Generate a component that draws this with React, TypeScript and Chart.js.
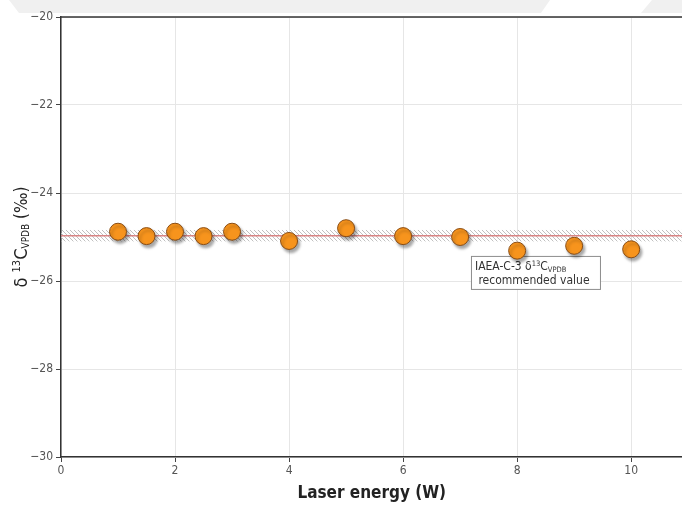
import React, { useEffect, useRef } from "react";
import { Chart, registerables } from "chart.js";

Chart.register(...registerables);

const laserEnergy = [1, 1.5, 2, 2.5, 3, 4, 5, 6, 7, 8, 9, 10];
const delta13C = [-24.88, -24.98, -24.88, -24.98, -24.88, -25.09, -24.8, -24.98, -25.0, -25.31, -25.2, -25.28];
const recommendedValue = -24.97;
const recommendedUncertainty = 0.13;
const xTickValues = [0, 2, 4, 6, 8, 10];
const yTickValues = [-30, -28, -26, -24, -22, -20];

const FONT = '"DejaVu Sans Condensed", "Liberation Sans Narrow", "Open Sans", sans-serif';

type Part = { t: string; size: number; dy: number };

function drawParts(ctx: CanvasRenderingContext2D, parts: Part[], x: number, y: number, align: "left" | "center", color: string, weight = "normal") {
  let total = 0;
  const widths = parts.map((p) => {
    ctx.font = `${weight} ${p.size}px ${FONT}`;
    const w = ctx.measureText(p.t).width;
    total += w;
    return w;
  });
  let cx = align === "center" ? x - total / 2 : x;
  ctx.fillStyle = color;
  ctx.textBaseline = "alphabetic";
  ctx.textAlign = "left";
  parts.forEach((p, i) => {
    ctx.font = `${weight} ${p.size}px ${FONT}`;
    ctx.fillText(p.t, cx, y + p.dy);
    cx += widths[i];
  });
}

const decorPlugin = {
  id: "decor",
  beforeDraw(chart: any) {
    const ctx = chart.ctx as CanvasRenderingContext2D;
    ctx.save();
    ctx.fillStyle = "#f0f0f0";
    ctx.beginPath();
    ctx.moveTo(9, 0);
    ctx.lineTo(550, 0);
    ctx.lineTo(541, 13);
    ctx.lineTo(19, 13);
    ctx.closePath();
    ctx.fill();
    ctx.beginPath();
    ctx.moveTo(652, 0);
    ctx.lineTo(700, 0);
    ctx.lineTo(700, 13);
    ctx.lineTo(641, 13);
    ctx.closePath();
    ctx.fill();
    ctx.restore();
  },
  beforeDatasetsDraw(chart: any) {
    const ctx = chart.ctx as CanvasRenderingContext2D;
    const { left, right, top, bottom } = chart.chartArea;
    const ys = chart.scales.y;
    const xs = chart.scales.x;
    ctx.save();
    ctx.beginPath();
    ctx.rect(left, top, right - left, bottom - top);
    ctx.clip();
    const pc = document.createElement("canvas");
    pc.width = 4;
    pc.height = 4;
    const p = pc.getContext("2d")!;
    p.strokeStyle = "#c0c0c0";
    p.lineWidth = 1;
    p.beginPath();
    p.moveTo(0, 0);
    p.lineTo(4, 4);
    p.moveTo(-1, 3);
    p.lineTo(1, 5);
    p.moveTo(3, -1);
    p.lineTo(5, 1);
    p.stroke();
    const pat = ctx.createPattern(pc, "repeat")!;
    const y1 = ys.getPixelForValue(recommendedValue + recommendedUncertainty);
    const y2 = ys.getPixelForValue(recommendedValue - recommendedUncertainty);
    ctx.fillStyle = pat;
    ctx.fillRect(left, y1, right - left, y2 - y1);
    const yc = ys.getPixelForValue(recommendedValue);
    ctx.strokeStyle = "#d98585";
    ctx.lineWidth = 1.5;
    ctx.beginPath();
    ctx.moveTo(left, yc);
    ctx.lineTo(right, yc);
    ctx.stroke();
    ctx.restore();

    const bx = xs.getPixelForValue(7.19);
    const by = ys.getPixelForValue(-25.43);
    const bw = 129;
    const bh = 33;
    ctx.save();
    ctx.fillStyle = "#ffffff";
    ctx.fillRect(bx, by, bw, bh);
    ctx.strokeStyle = "#8c8c8c";
    ctx.lineWidth = 1;
    ctx.strokeRect(bx + 0.5, by + 0.5, bw, bh);
    drawParts(ctx, [
      { t: "IAEA-C-3 δ", size: 12, dy: 0 },
      { t: "13", size: 7.5, dy: -4 },
      { t: "C", size: 12, dy: 0 },
      { t: "VPDB", size: 7.5, dy: 2 },
    ], bx + 4, by + 14, "left", "#333");
    drawParts(ctx, [{ t: " recommended value", size: 12, dy: 0 }], bx + 4, by + 28, "left", "#333");
    ctx.restore();
  },
  beforeDatasetDraw(chart: any) {
    const ctx = chart.ctx as CanvasRenderingContext2D;
    ctx.save();
    ctx.shadowColor = "rgba(0,0,0,0.35)";
    ctx.shadowBlur = 3;
    ctx.shadowOffsetX = 2;
    ctx.shadowOffsetY = 3;
  },
  afterDatasetDraw(chart: any) {
    chart.ctx.restore();
  },
  afterDraw(chart: any) {
    const ctx = chart.ctx as CanvasRenderingContext2D;
    const { left, right, top, bottom } = chart.chartArea;
    ctx.save();
    ctx.strokeStyle = "#333";
    ctx.lineWidth = 1.5;
    ctx.beginPath();
    ctx.moveTo(left, top);
    ctx.lineTo(right, top);
    ctx.stroke();
    ctx.translate(20, (top + bottom) / 2);
    ctx.rotate(-Math.PI / 2);
    drawParts(ctx, [
      { t: "δ ", size: 18, dy: 0 },
      { t: "13", size: 11, dy: -7 },
      { t: "C", size: 18, dy: 0 },
      { t: "VPDB", size: 10, dy: 2 },
      { t: " (‰)", size: 17, dy: 0 },
    ], 0, 7, "center", "#222");
    ctx.restore();
  },
};

export default function App() {
  const ref = useRef<HTMLCanvasElement>(null);
  useEffect(() => {
    const chart = new Chart(ref.current!, {
      type: "scatter",
      data: {
        datasets: [
          {
            data: laserEnergy.map((x, i) => ({ x, y: delta13C[i] })),
            backgroundColor: "#f7941d",
            borderColor: "#8a4d14",
            borderWidth: 1,
            pointRadius: 8.5,
            pointHoverRadius: 8.5,
          },
        ],
      },
      options: {
        animation: false,
        responsive: true,
        maintainAspectRatio: false,
        layout: { padding: { top: 17, right: 0, left: 0, bottom: 0 } },
        plugins: { legend: { display: false }, tooltip: { enabled: false } },
        scales: {
          x: {
            type: "linear",
            min: 0,
            max: 10.9,
            afterFit: (s: any) => { s.height = 54; },
            afterBuildTicks: (s: any) => { s.ticks = xTickValues.map((v) => ({ value: v })); },
            ticks: { color: "#555", font: { family: FONT, size: 12 }, padding: 2, maxRotation: 0 },
            grid: { color: "#e6e6e6", tickColor: "#444", tickLength: 5 },
            border: { color: "#333", width: 1.5 },
            title: {
              display: true,
              text: "Laser energy (W)",
              color: "#222",
              font: { family: FONT, size: 17, weight: "bold" },
              padding: { top: 0, bottom: 7 },
            },
          },
          y: {
            type: "linear",
            min: -30,
            max: -20,
            afterFit: (s: any) => { s.width = 61; },
            afterBuildTicks: (s: any) => { s.ticks = yTickValues.map((v) => ({ value: v })); },
            ticks: {
              color: "#555",
              font: { family: FONT, size: 12 },
              padding: 3,
              callback: (v: any) => String(v).replace("-", "−"),
            },
            grid: { color: "#e6e6e6", tickColor: "#444", tickLength: 5 },
            border: { color: "#333", width: 1.5 },
          },
        },
      },
      plugins: [decorPlugin],
    });
    return () => chart.destroy();
  }, []);
  return (
    <div style={{ position: "fixed", left: 0, top: 0, width: 682, height: 511, overflow: "hidden", background: "#fff" }}>
      <div style={{ position: "absolute", left: 0, top: 0, width: 692, height: 511 }}>
        <canvas ref={ref} />
      </div>
    </div>
  );
}
